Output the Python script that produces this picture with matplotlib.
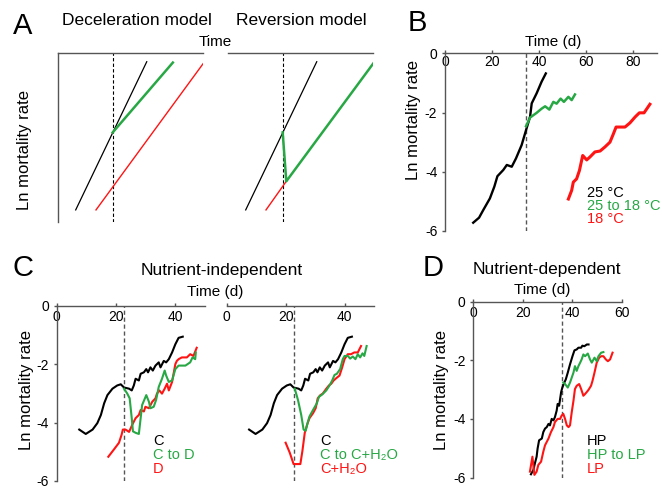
import numpy as np
import matplotlib.pyplot as plt

plt.rcParams['font.family'] = ['Liberation Sans', 'DejaVu Sans']

GREEN = '#27a844'
RED = '#ff1414'
GREY = '#555555'

# ---- A: schematic models (arbitrary units) ----
a_switch = 37.5
a_black_t = [12, 61]
a_black_y = [-93, -5]
a_dec_green_t = [37.5, 79]
a_dec_green_y = [-47, -5.5]
a_dec_red_t = [26, 100]
a_dec_red_y = [-93, -6]
a_rev_red_t = [26, 40]
a_rev_red_y = [-93, -76]
a_rev_green_t = [37.5, 40, 100]
a_rev_green_y = [-47, -76, -6]

# ---- B: temperature shift ----
b_switch = 34.5
b_25_t = [12.0, 14.5, 16.3, 19.1, 21.0, 22.3, 24.8, 26.3, 28.4, 30.2, 32.6, 34.5, 36.2, 36.9, 39.0, 41.1, 42.9]
b_25_y = [-5.72, -5.55, -5.29, -4.9, -4.5, -4.15, -3.94, -3.77, -3.83, -3.55, -3.1, -2.59, -2.14, -1.69, -1.35, -0.96, -0.68]
b_shift_t = [34.5, 36.2, 39.0, 41.1, 42.6, 44.4, 46.1, 47.5, 49.2, 50.6, 52.5, 53.9, 55.3]
b_shift_y = [-2.46, -2.17, -2.01, -1.87, -1.79, -1.9, -1.64, -1.7, -1.53, -1.64, -1.47, -1.58, -1.39]
b_18_t = [52.5, 53.9, 54.6, 56.0, 57.2, 58.6, 60.3, 61.7, 63.8, 66.0, 68.1, 70.2, 71.4, 72.8, 74.5, 76.6, 78.7, 80.9, 82.7, 84.7, 87.2]
b_18_y = [-4.92, -4.63, -4.35, -4.24, -3.96, -3.45, -3.6, -3.5, -3.33, -3.3, -3.16, -3.0, -2.77, -2.49, -2.49, -2.49, -2.35, -2.15, -2.01, -2.01, -1.72]

# ---- C: nutrient-independent ----
c_switch = 22.8
c_ctrl_t = [7.6, 9.8, 12.1, 13.7, 14.9, 16.0, 17.1, 18.8, 20.4, 21.6, 22.7, 24.4, 25.3, 26.0, 26.6, 27.7, 28.3,
            29.4, 30.2, 30.8, 31.6, 32.4, 33.3, 34.4, 35.0, 36.1, 36.9, 37.8, 38.9, 40.0, 41.1, 42.5]
c_ctrl_y = [-4.24, -4.39, -4.24, -4.02, -3.74, -3.34, -3.06, -2.84, -2.73, -2.69, -2.8, -2.84, -2.9, -2.73, -2.5, -2.56, -2.33,
            -2.28, -2.17, -2.28, -2.11, -2.22, -2.05, -1.94, -2.11, -1.89, -1.94, -1.83, -1.6, -1.32, -1.1, -1.06]
c_ctod_t = [22.7, 23.8, 24.6, 25.3, 25.7, 26.6, 27.7, 28.3, 28.8, 30.2, 31.1, 31.6, 32.7, 33.5, 34.4, 35.5, 36.4,
            36.9, 37.8, 38.9, 40.0, 41.1, 43.4, 45.0, 45.8, 46.7, 46.9]
c_ctod_y = [-2.84, -3.01, -3.17, -3.85, -4.3, -4.35, -4.39, -3.85, -3.4, -3.06, -3.29, -3.51, -3.46, -3.23, -2.78, -2.5, -2.22,
            -2.39, -2.61, -2.56, -2.17, -2.05, -2.05, -1.94, -1.77, -1.83, -1.6]
c_d_t = [17.4, 19.3, 21.0, 21.9, 22.3, 23.2, 24.4, 25.5, 26.6, 27.7, 28.3, 29.4, 29.9, 31.1, 32.2, 33.3, 33.8, 34.6,
         35.5, 36.4, 37.2, 37.8, 38.9, 40.0, 40.5, 41.1, 42.2, 43.9, 45.0, 46.1, 47.2]
c_d_y = [-5.17, -4.92, -4.69, -4.41, -4.24, -4.24, -4.32, -4.07, -3.85, -3.74, -3.57, -3.62, -3.46, -3.51, -3.29, -3.17, -3.01, -2.9,
         -3.01, -2.84, -2.67, -2.9, -2.61, -2.0, -1.89, -1.83, -1.77, -1.77, -1.66, -1.72, -1.44]
c_ctow_t = [23.1, 24.2, 25.3, 26.1, 26.8, 27.6, 28.1, 29.3, 30.6, 31.3, 32.4, 33.8, 34.9, 35.8, 36.6, 37.4, 38.5,
            39.4, 40.0, 41.1, 41.9, 42.8, 43.7, 44.5, 45.3, 46.1, 46.7, 47.5]
c_ctow_y = [-2.84, -3.23, -3.74, -4.24, -4.28, -3.96, -3.79, -3.57, -3.34, -3.12, -3.04, -2.9, -2.73, -2.56, -2.37, -2.33, -2.17,
            -1.83, -1.72, -1.72, -1.81, -1.74, -1.83, -1.66, -1.77, -1.63, -1.72, -1.38]
c_w_t = [20.0, 21.4, 22.7, 23.6, 25.0, 25.7, 26.5, 27.3, 28.1, 29.3, 30.2, 30.9, 31.8, 32.6, 33.8, 34.7, 35.5, 36.3,
         37.2, 38.3, 39.2, 40.0, 41.1, 42.2, 43.3, 44.5, 45.6]
c_w_y = [-4.69, -5.03, -5.42, -5.42, -5.42, -4.97, -4.35, -4.07, -3.85, -3.68, -3.51, -3.17, -3.06, -3.01, -2.84, -2.73, -2.67, -2.56,
         -2.48, -2.39, -2.11, -1.83, -1.66, -1.66, -1.6, -1.6, -1.38]

# ---- D: nutrient-dependent ----
d_switch = 36.0
d_hp_t = [23.3, 24.3, 24.9, 25.6, 26.0, 26.6, 27.7, 28.3, 29.0, 29.7, 30.4, 31.0, 31.7, 32.4, 33.0, 33.7, 34.1,
          34.7, 35.5, 36.0, 36.8, 37.4, 38.2, 39.1, 40.1, 40.9, 41.8, 42.5, 43.6, 44.1, 44.9, 45.9, 46.6]
d_hp_y = [-5.89, -5.74, -5.52, -5.29, -5.01, -4.73, -4.67, -4.45, -4.33, -4.28, -4.17, -4.22, -4.0, -4.05, -3.94, -3.72, -3.49,
          -3.55, -3.09, -2.93, -2.76, -2.65, -2.42, -2.14, -1.86, -1.66, -1.63, -1.57, -1.57, -1.5, -1.52, -1.46, -1.46]
d_hplp_t = [36.4, 37.1, 38.2, 39.1, 39.8, 40.5, 41.1, 41.8, 42.5, 43.2, 43.8, 44.5, 45.2, 46.3, 47.2, 47.9, 49.0,
            49.9, 50.6, 51.7, 52.6]
d_hplp_y = [-2.76, -2.81, -2.93, -2.76, -2.59, -2.42, -2.2, -2.36, -2.2, -2.08, -1.97, -1.8, -1.86, -1.77, -1.97, -2.08, -1.91,
            -2.03, -1.86, -1.74, -1.72]
d_lp_t = [22.9, 23.9, 24.7, 25.6, 26.3, 27.4, 28.3, 29.0, 30.4, 31.4, 32.4, 33.0, 34.1, 35.1, 35.7, 36.4, 37.1, 37.8,
          38.5, 39.1, 39.8, 40.5, 41.1, 41.8, 42.8, 43.6, 44.5, 45.2, 46.3, 46.8, 47.6, 48.2, 49.0, 49.9, 50.9,
          51.7, 52.6, 53.6, 54.4, 55.3, 56.3]
d_lp_y = [-5.8, -5.29, -5.91, -5.8, -5.57, -5.46, -5.12, -4.9, -4.67, -4.45, -4.28, -4.11, -4.0, -4.0, -3.89, -3.83, -4.0, -4.22,
          -4.28, -4.22, -3.77, -3.38, -2.98, -2.87, -2.81, -2.98, -3.21, -3.15, -3.04, -2.98, -2.87, -2.7, -2.42, -2.08, -1.91,
          -1.86, -1.86, -1.97, -2.03, -1.97, -1.74]

W, H = 662, 488


def rect(x0, y0, x1, y1):
    # pixel box (top-left origin) -> figure fraction
    return [x0 / W, 1 - y1 / H, (x1 - x0) / W, (y1 - y0) / H]


def ftext(x, y, s, **kw):
    kw.setdefault('ha', 'center')
    kw.setdefault('va', 'center')
    fig.text(x / W, 1 - y / H, s, **kw)


def style(ax, xmax, xticks, left=True, ticks=True, xpad=-16):
    ax.set_xlim(0, xmax)
    ax.set_ylim(-6, 0)
    ax.spines['bottom'].set_visible(False)
    ax.spines['right'].set_visible(False)
    ax.spines['left'].set_visible(left)
    for s in ['top', 'left']:
        ax.spines[s].set_color(GREY)
        ax.spines[s].set_linewidth(1.0)
    ax.patch.set_visible(False)
    if not ticks:
        ax.set_xticks([])
        ax.set_yticks([])
        return
    ax.xaxis.set_ticks_position('top')
    ax.set_xticks(xticks)
    ax.tick_params(axis='x', direction='out', length=2.5, width=1, color=GREY,
                   labelsize=10, pad=xpad)
    if left:
        ax.set_yticks([0, -2, -4, -6])
        ax.set_yticklabels(['0', '-2', '-4', '-6'])
        ax.tick_params(axis='y', direction='out', length=2.5, width=1, color=GREY,
                       labelsize=10, pad=3)
    else:
        ax.set_yticks([])


fig = plt.figure(figsize=(6.62, 4.88), dpi=100)

# Panel A
axA1 = fig.add_axes(rect(58.3, 53.3, 203.3, 221.7))
axA2 = fig.add_axes(rect(228.3, 53.3, 373.3, 221.7))
style(axA1, 100, [], ticks=False)
style(axA2, 100, [], left=False, ticks=False)
axA1.set_ylim(-100, 0)
axA2.set_ylim(-100, 0)
axA1.axvline(a_switch, color='black', ls=(0, (3, 2)), lw=0.8)
axA1.plot(a_black_t, a_black_y, color='black', lw=0.9)
axA1.plot(a_dec_red_t, a_dec_red_y, color=RED, lw=1.0)
axA1.plot(a_dec_green_t, a_dec_green_y, color=GREEN, lw=1.8)
axA2.axvline(a_switch, color='black', ls=(0, (3, 2)), lw=0.8)
axA2.plot(a_black_t, a_black_y, color='black', lw=0.9)
axA2.plot(a_rev_red_t, a_rev_red_y, color=RED, lw=1.0)
axA2.plot(a_rev_green_t, a_rev_green_y, color=GREEN, lw=1.8)

ftext(23, 26, 'A', fontsize=21)
ftext(136.7, 20.7, 'Deceleration model', fontsize=12.5)
ftext(301.7, 20.7, 'Reversion model', fontsize=12.5)
ftext(215, 41.7, 'Time', fontsize=11)
ftext(25, 150, 'Ln mortality rate', fontsize=12, rotation=90)

# Panel B
axB = fig.add_axes(rect(445, 53.3, 656.5, 231))
style(axB, 90, [0, 20, 40, 60, 80], xpad=-13.5)
axB.axvline(b_switch, color=GREY, ls=(0, (3, 2)), lw=1.0)
axB.plot(b_25_t, b_25_y, color='black', lw=1.7)
axB.plot(b_shift_t, b_shift_y, color=GREEN, lw=1.8)
axB.plot(b_18_t, b_18_y, color=RED, lw=2.2)
ftext(417, 23, 'B', fontsize=21)
ftext(553, 41.7, 'Time (d)', fontsize=11)
ftext(413.3, 120, 'Ln mortality rate', fontsize=12, rotation=90)
ftext(587, 193, '25 °C', fontsize=10.5, ha='left', color='black')
ftext(587, 206, '25 to 18 °C', fontsize=10.5, ha='left', color=GREEN)
ftext(587, 219, '18 °C', fontsize=10.5, ha='left', color=RED)

# Panel C
axC1 = fig.add_axes(rect(56.7, 305.7, 205, 481))
axC2 = fig.add_axes(rect(226.7, 305.7, 374, 481))
style(axC1, 50, [0, 20, 40])
style(axC2, 50, [0, 20, 40], left=False)
axC1.axvline(c_switch, color=GREY, ls=(0, (3, 2)), lw=1.0)
axC1.plot(c_ctrl_t, c_ctrl_y, color='black', lw=1.5)
axC1.plot(c_d_t, c_d_y, color=RED, lw=1.5)
axC1.plot(c_ctod_t, c_ctod_y, color=GREEN, lw=1.5)
axC2.axvline(c_switch, color=GREY, ls=(0, (3, 2)), lw=1.0)
axC2.plot(c_ctrl_t, c_ctrl_y, color='black', lw=1.5)
axC2.plot(c_w_t, c_w_y, color=RED, lw=1.5)
axC2.plot(c_ctow_t, c_ctow_y, color=GREEN, lw=1.5)
ftext(23, 268, 'C', fontsize=21)
ftext(221.7, 270, 'Nutrient-independent', fontsize=12.5)
ftext(215, 292.3, 'Time (d)', fontsize=11)
ftext(26.7, 390, 'Ln mortality rate', fontsize=12, rotation=90)
ftext(153, 441, 'C', fontsize=10.5, ha='left', color='black')
ftext(153, 455, 'C to D', fontsize=10.5, ha='left', color=GREEN)
ftext(153, 469, 'D', fontsize=10.5, ha='left', color=RED)
ftext(320, 441, 'C', fontsize=10.5, ha='left', color='black')
ftext(320, 455, 'C to C+H\u2082O', fontsize=10.5, ha='left', color=GREEN)
ftext(320, 469, 'C+H\u2082O', fontsize=10.5, ha='left', color=RED)

# Panel D
axD = fig.add_axes(rect(473.3, 301.7, 621.7, 477.5))
style(axD, 60, [0, 20, 40, 60])
axD.axvline(d_switch, color=GREY, ls=(0, (3, 2)), lw=1.0)
axD.plot(d_hp_t, d_hp_y, color='black', lw=1.5)
axD.plot(d_lp_t, d_lp_y, color=RED, lw=1.5)
axD.plot(d_hplp_t, d_hplp_y, color=GREEN, lw=1.5)
ftext(433, 268, 'D', fontsize=21)
ftext(546.7, 269.3, 'Nutrient-dependent', fontsize=12.5)
ftext(541.7, 290, 'Time (d)', fontsize=11)
ftext(441.7, 390, 'Ln mortality rate', fontsize=12, rotation=90)
ftext(587, 441, 'HP', fontsize=10.5, ha='left', color='black')
ftext(587, 455, 'HP to LP', fontsize=10.5, ha='left', color=GREEN)
ftext(587, 469, 'LP', fontsize=10.5, ha='left', color=RED)

fig.savefig('out.png', dpi=100)
